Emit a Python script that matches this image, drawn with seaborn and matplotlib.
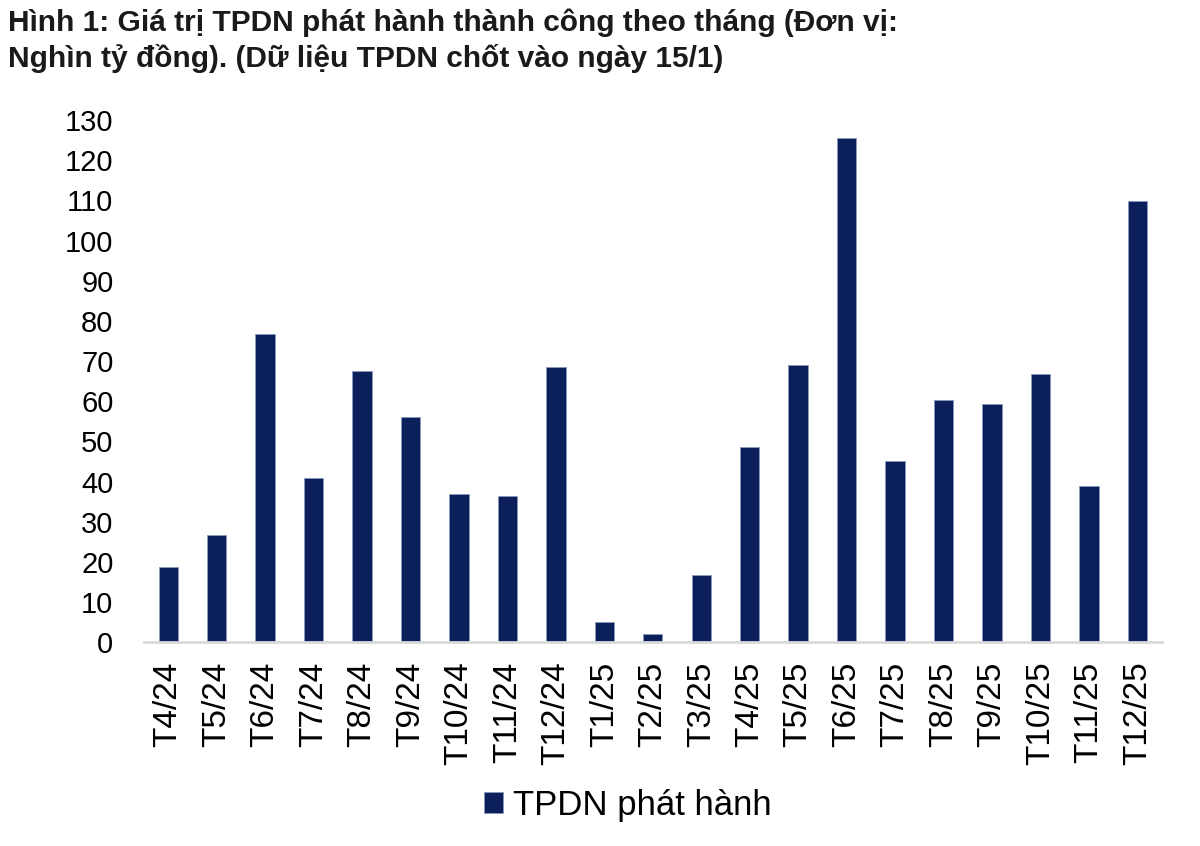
import matplotlib
matplotlib.use("Agg")
import matplotlib.pyplot as plt
import seaborn as sns
import pandas as pd

# Data (Nghìn tỷ đồng)
months = ['T4/24', 'T5/24', 'T6/24', 'T7/24', 'T8/24', 'T9/24', 'T10/24',
          'T11/24', 'T12/24', 'T1/25', 'T2/25', 'T3/25', 'T4/25', 'T5/25',
          'T6/25', 'T7/25', 'T8/25', 'T9/25', 'T10/25', 'T11/25', 'T12/25']
values = [18.8, 26.8, 76.8, 40.8, 67.6, 56.0, 37.0,
          36.3, 68.5, 5.0, 2.0, 16.8, 48.5, 69.0,
          125.5, 45.0, 60.2, 59.2, 66.7, 38.8, 109.8]
series_name = 'TPDN phát hành'
title = ('Hình 1: Giá trị TPDN phát hành thành công theo tháng (Đơn vị:\n'
         'Nghìn tỷ đồng). (Dữ liệu TPDN chốt vào ngày 15/1)')

sns.set_theme(style='white')
plt.rcParams['font.family'] = ['Liberation Sans', 'DejaVu Sans']

df = pd.DataFrame({'month': months, 'value': values})

fig = plt.figure(figsize=(12, 8.46), dpi=100)
ax = fig.add_axes([0.120, 0.241, 0.848, 0.617])

sns.barplot(data=df, x='month', y='value', color='#0b1f5b', width=0.4,
            saturation=1, edgecolor='#8a98bd', linewidth=0.6,
            label=series_name, ax=ax)

ax.set_ylim(0, 130)
ax.set_yticks(range(0, 131, 10))
ax.set_xlim(-0.5, len(months) - 0.5)
ax.set_xlabel('')
ax.set_ylabel('')
ax.tick_params(axis='y', labelsize=21, pad=22, length=0, colors='black')
ax.tick_params(axis='x', labelsize=24, pad=14, length=0, rotation=90, colors='black')

for side in ['top', 'right', 'left']:
    ax.spines[side].set_visible(False)
ax.spines['bottom'].set_color('#d9d9d9')
ax.spines['bottom'].set_linewidth(2)

if ax.get_legend():
    ax.get_legend().remove()
handles, labels = ax.get_legend_handles_labels()
fig.legend(handles, labels, loc='center', bbox_to_anchor=(0.523, 0.048),
           frameon=False, fontsize=25, handlelength=0.55, handleheight=0.55,
           handletextpad=0.3, labelcolor='black')

fig.text(0.007, 0.99, title, fontsize=21.5, fontweight='bold',
         ha='left', va='top', color='#1a1a1a', linespacing=1.3)

fig.savefig('out.png', dpi=100)
